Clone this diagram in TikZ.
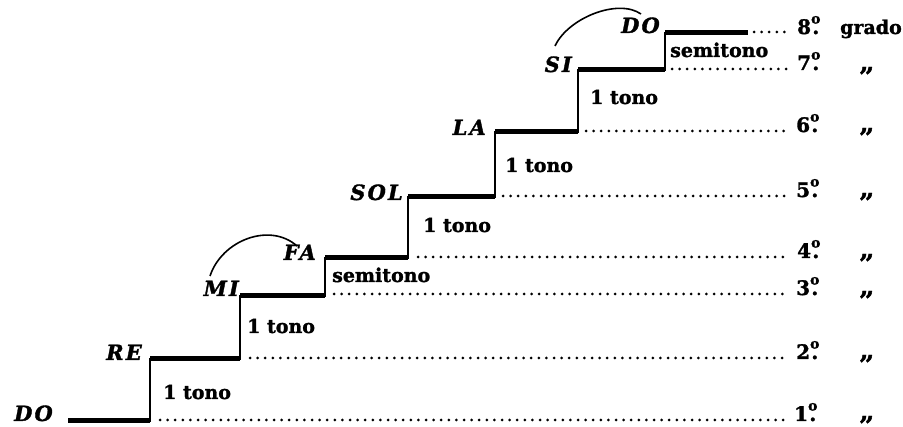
\documentclass[tikz,border=0pt]{standalone}
\usepackage{fontspec}
\setmainfont{DejaVu Serif}[BoldFeatures={FakeBold=1.5},BoldItalicFeatures={FakeBold=1.5}]
\newfontfamily\notefont{DejaVu Serif}[LetterSpace=10,BoldFeatures={FakeBold=1.5},BoldItalicFeatures={FakeBold=1.5}]
\newcommand\ordn[1]{#1\hbox{\ooalign{\hfil.\hfil\cr\raisebox{10.5pt}{\fontsize{14}{14}\selectfont o}\cr}}}
\begin{document}
\begin{tikzpicture}[x=1pt,y=-1pt,
  note/.style={font=\fontsize{21}{21}\selectfont\notefont\bfseries\itshape, inner sep=0pt, anchor=base east},
  lbl/.style={font=\fontsize{19}{19}\selectfont\bfseries, inner sep=0pt, anchor=base west},
  ordl/.style={font=\fontsize{20}{20}\selectfont\bfseries, inner sep=0pt, anchor=base west},
  ditto/.style={font=\fontsize{26}{26}\selectfont\bfseries, inner sep=0pt, anchor=base},
  tread/.style={line width=5pt},
  riser/.style={line width=2.8pt, line cap=rect},
  dots/.style={line width=3pt, line cap=round, dash pattern=on 0pt off 7.6pt, shorten >=7pt},
  slur/.style={line width=1.6pt}]
\useasboundingbox (0,0) rectangle (903,427);
% staircase corners
\coordinate (a0) at (68,421);
\coordinate (b1) at (150,421); \coordinate (a1) at (150,359);
\coordinate (b2) at (240,359); \coordinate (a2) at (240,296);
\coordinate (b3) at (325,296); \coordinate (a3) at (325,258);
\coordinate (b4) at (408,258); \coordinate (a4) at (408,197);
\coordinate (b5) at (495,197); \coordinate (a5) at (495,132);
\coordinate (b6) at (578,132); \coordinate (a6) at (578,70);
\coordinate (b7) at (665,70);  \coordinate (a7) at (665,33);
\coordinate (b8) at (748,33);
% treads
\foreach \i/\j in {a0/b1,a1/b2,a2/b3,a3/b4,a4/b5,a5/b6,a6/b7,a7/b8}
  \draw[tread] (\i) -- (\j);
% risers
\foreach \i/\j in {b1/a1,b2/a2,b3/a3,b4/a4,b5/a5,b6/a6,b7/a7}
  \draw[riser] (\i) -- (\j);
% note names
\node[note] (do1) at (53,421) {DO};
\node[note] (re)  at (142,360) {RE};
\node[note] (mi)  at (239,296) {MI};
\node[note] (fa)  at (316,260) {FA};
\node[note] (sol) at (403,200) {SOL};
\node[note] (la)  at (486,135) {LA};
\node[note] (si)  at (572,72) {SI};
\node[note] (do8) at (660,33) {DO};
% interval labels
\node[lbl] (t1) at (163,399) {1 tono};
\node[lbl] (t2) at (247,333) {1 tono};
\node[lbl] (s1) at (332,282) {semitono};
\node[lbl] (t3) at (423,232) {1 tono};
\node[lbl] (t4) at (505,172) {1 tono};
\node[lbl] (t5) at (590,104) {1 tono};
\node[lbl] (s2) at (670,57) {semitono};
% ordinals
\node[ordl] (o1) at (794,421) {\ordn{1}};
\node[ordl] (o2) at (796,359) {\ordn{2}};
\node[ordl] (o3) at (796,295) {\ordn{3}};
\node[ordl] (o4) at (797,258) {\ordn{4}};
\node[ordl] (o5) at (796,197) {\ordn{5}};
\node[ordl] (o6) at (796,132) {\ordn{6}};
\node[ordl] (o7) at (797,70) {\ordn{7}};
\node[ordl] (o8) at (797,34) {\ordn{8}};
\node[lbl] (gr) at (840,34) {grado};
\foreach \k/\y in {1/420,2/359,3/295,4/258,5/197,6/132,7/71}
  \node[ditto] (q\k) at (867,\y) {„};
% dotted guide lines
\coordinate (d1) at (160,420); \coordinate (d2) at (250,358);
\coordinate (d3) at (334,294); \coordinate (d4) at (418,257);
\coordinate (d5) at (503,196); \coordinate (d6) at (586,131);
\coordinate (d7) at (672,69);  \coordinate (d8) at (754,32);
\foreach \k in {1,...,8}
  \draw[dots] (d\k) -- (o\k.base west |- d\k);
% slurs
\coordinate (m1) at (210,276); \coordinate (f1) at (297,246);
\coordinate (s1a) at (555,46); \coordinate (s1b) at (641,14);
\draw[slur] (m1) .. controls (222,240) and (270,222) .. (f1);
\draw[slur] (s1a) .. controls (568,18) and (618,-2) .. (s1b);
\end{tikzpicture}
\end{document}
